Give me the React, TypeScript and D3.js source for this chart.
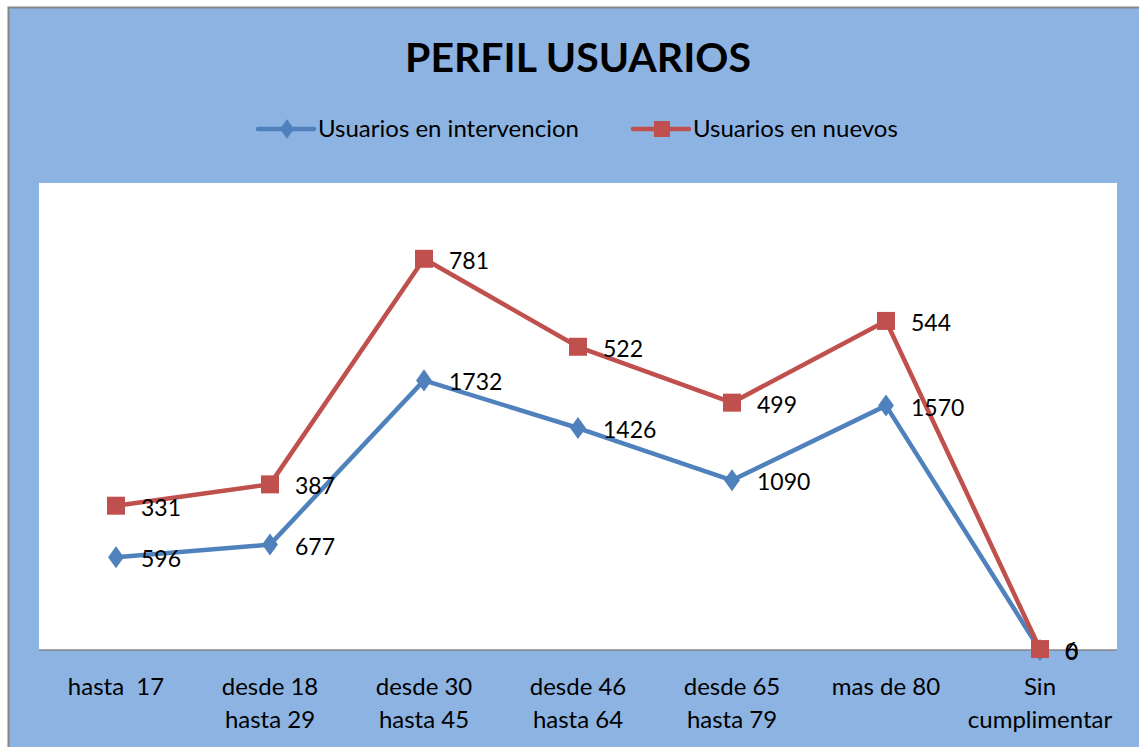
import React, { useEffect, useRef } from 'react';
import * as d3 from 'd3';

const categories = [
  ['hasta  17'],
  ['desde 18', 'hasta 29'],
  ['desde 30', 'hasta 45'],
  ['desde 46', 'hasta 64'],
  ['desde 65', 'hasta 79'],
  ['mas de 80'],
  ['Sin', 'cumplimentar'],
];
const intervencion = [596, 677, 1732, 1426, 1090, 1570, 0];
const nuevos = [331, 387, 781, 522, 499, 544, 6];
const seriesNames = ['Usuarios en intervencion', 'Usuarios en nuevos'];
const colors = ['#4F81BD', '#C0504D'];

const FONT = 'Lato, Calibri, sans-serif';

export default function App() {
  const ref = useRef<SVGSVGElement>(null);

  useEffect(() => {
    const svg = d3.select(ref.current);
    svg.selectAll('*').remove();

    const W = 1139, H = 747;
    const plot = { left: 39, right: 1117, top: 183, bottom: 650 };

    // chart area background
    svg.append('rect')
      .attr('x', 8.5).attr('y', 7.5)
      .attr('width', W).attr('height', H)
      .attr('fill', '#8DB3E2')
      .attr('stroke', '#868686').attr('stroke-width', 2);

    // plot area
    svg.append('rect')
      .attr('x', plot.left).attr('y', plot.top)
      .attr('width', plot.right - plot.left).attr('height', plot.bottom - plot.top)
      .attr('fill', '#fff');

    const x = d3.scaleBand<number>()
      .domain(d3.range(categories.length))
      .range([plot.left, plot.right]);
    const y = d3.scaleLinear().domain([0, 3000]).range([plot.bottom, plot.top]);
    const cx = (i: number) => x(i)! + x.bandwidth() / 2;

    // title
    svg.append('text')
      .attr('x', 578).attr('y', 72)
      .attr('text-anchor', 'middle')
      .attr('font-family', FONT).attr('font-weight', 'bold').attr('font-size', 41)
      .text('PERFIL USUARIOS');

    // x axis line
    svg.append('line')
      .attr('x1', plot.left).attr('x2', plot.right)
      .attr('y1', plot.bottom).attr('y2', plot.bottom)
      .attr('stroke', '#868686').attr('stroke-width', 1.5);

    // category labels
    categories.forEach((lines, i) => {
      const t = svg.append('text')
        .attr('text-anchor', 'middle')
        .attr('font-family', FONT).attr('font-size', 24)
        .style('white-space', 'pre')
        .attr('fill', '#000');
      lines.forEach((l, j) => {
        t.append('tspan')
          .attr('x', cx(i))
          .attr('y', 695 + j * 33)
          .text(l);
      });
    });

    // stacked series
    const stacked = [
      intervencion,
      intervencion.map((v, i) => v + nuevos[i]),
    ];
    const raw = [intervencion, nuevos];

    const line = d3.line<number>()
      .x((_, i) => cx(i))
      .y(d => y(d));

    stacked.forEach((vals, s) => {
      const g = svg.append('g');
      g.append('path')
        .datum(vals)
        .attr('d', line)
        .attr('fill', 'none')
        .attr('stroke', colors[s])
        .attr('stroke-width', 4.5)
        .attr('stroke-linejoin', 'round')
        .attr('stroke-linecap', 'round');

      vals.forEach((v, i) => {
        if (s === 0) {
          g.append('path')
            .attr('d', d3.symbol().type(d3.symbolDiamond).size(140)())
            .attr('transform', `translate(${cx(i)},${y(v)}) scale(1.25,1)`)
            .attr('fill', colors[s]);
        } else {
          g.append('rect')
            .attr('x', cx(i) - 9).attr('y', y(v) - 9)
            .attr('width', 18).attr('height', 18)
            .attr('fill', colors[s]);
        }
      });
    });

    // data labels
    stacked.forEach((vals, s) => {
      vals.forEach((v, i) => {
        svg.append('text')
          .attr('x', cx(i) + 25).attr('y', y(v) + 10)
          .attr('font-family', FONT).attr('font-size', 23)
          .attr('fill', '#000')
          .text(raw[s][i]);
      });
    });

    // legend
    const legendItems = [
      { x: 258, s: 0 },
      { x: 633, s: 1 },
    ];
    legendItems.forEach(({ x: lx, s }) => {
      const ly = 129;
      svg.append('line')
        .attr('x1', lx).attr('x2', lx + 56)
        .attr('y1', ly).attr('y2', ly)
        .attr('stroke', colors[s]).attr('stroke-width', 4.5)
        .attr('stroke-linecap', 'round');
      if (s === 0) {
        svg.append('path')
          .attr('d', d3.symbol().type(d3.symbolDiamond).size(110)())
          .attr('transform', `translate(${lx + 29},${ly}) scale(1.25,1)`)
          .attr('fill', colors[s]);
      } else {
        svg.append('rect')
          .attr('x', lx + 29 - 8).attr('y', ly - 8)
          .attr('width', 16).attr('height', 16)
          .attr('fill', colors[s]);
      }
      svg.append('text')
        .attr('x', lx + 60).attr('y', ly + 8)
        .attr('font-family', FONT).attr('font-size', 24)
        .attr('fill', '#000')
        .text(seriesNames[s]);
    });
  }, []);

  return (
    <svg
      ref={ref}
      width={1139}
      height={747}
      style={{ position: 'absolute', left: 0, top: 0 }}
    />
  );
}
